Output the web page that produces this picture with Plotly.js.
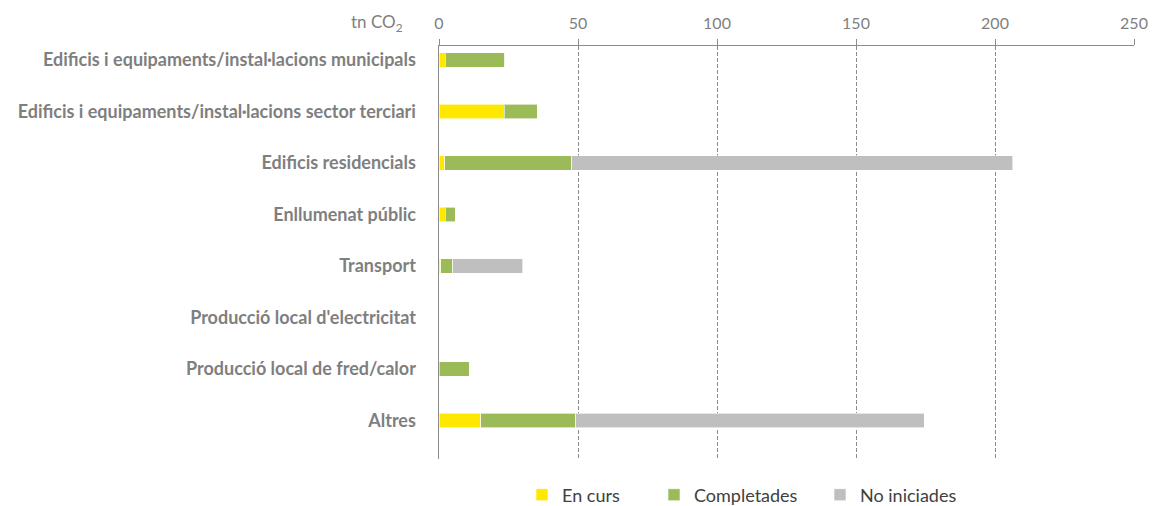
<!DOCTYPE html>
<html>
<head>
<meta charset="utf-8">
<script src="https://cdn.plot.ly/plotly-3.0.1.min.js"></script>
<style>html,body{margin:0;padding:0;background:#fff;}#chart{width:1152px;height:506px;}</style>
</head>
<body>
<div id="chart"></div>
<script>
const categories = [
  "Edificis i equipaments/instal·lacions municipals",
  "Edificis i equipaments/instal·lacions sector terciari",
  "Edificis residencials",
  "Enllumenat públic",
  "Transport",
  "Producció local d'electricitat",
  "Producció local de fred/calor",
  "Altres"
];
const enCurs      = [2.3, 23.4, 2.0, 2.3, 0.6, 0, 0, 15.0];
const completades = [21.4, 12.0, 45.8, 3.6, 4.4, 0, 10.8, 34.2];
const noIniciades = [0, 0, 158.6, 0, 25.2, 0, 0, 125.4];
const seriesNames = ["En curs", "Completades", "No iniciades"];
const seriesColors = ["#FFE800", "#9BBB59", "#BFBFBF"];
const xTicks = [0, 50, 100, 150, 200, 250];

const legendIds = ["legend", "legend2", "legend3"];
const legendLeft = [522, 654, 820];

const seriesValues = [enCurs, completades, noIniciades];
const traces = seriesValues.map((vals, i) => ({
  type: "bar",
  orientation: "h",
  name: seriesNames[i],
  y: categories,
  x: vals,
  legend: legendIds[i],
  marker: {color: seriesColors[i], line: {color: "rgba(255,255,255,0.6)", width: 1}},
  hoverinfo: "x+name"
}));

const legendBase = (left) => ({
  orientation: "h",
  xref: "container", yref: "container",
  x: left / 1152, xanchor: "left",
  y: 11 / 506, yanchor: "middle",
  font: {size: 18, color: "#404040", family: "Lato, sans-serif"},
  bgcolor: "rgba(0,0,0,0)",
  borderwidth: 0,
  itemclick: false
});

const layout = {
  width: 1152, height: 506,
  margin: {l: 439, r: 18, t: 46, b: 47, pad: 0},
  barmode: "stack",
  bargap: 0.72,
  paper_bgcolor: "#fff",
  plot_bgcolor: "#fff",
  font: {family: "Lato, 'Open Sans', sans-serif", color: "#7f7f7f"},
  xaxis: {
    side: "top",
    range: [0, 250],
    tickvals: xTicks,
    ticktext: xTicks.map(String),
    showgrid: true,
    gridcolor: "#8a8a8a",
    griddash: "4px,2px",
    gridwidth: 1,
    zeroline: false,
    showline: true,
    linecolor: "#8c8c8c",
    linewidth: 1.5,
    ticks: "outside",
    ticklen: 6,
    tickcolor: "#8c8c8c",
    tickfont: {size: 16, color: "#7f7f7f", family: "Lato, sans-serif"},
    ticklabelstandoff: 3,
    fixedrange: true
  },
  yaxis: {
    type: "category",
    range: [7.75, -0.27],
    showgrid: false,
    zeroline: false,
    showline: true,
    linecolor: "#8c8c8c",
    linewidth: 1.5,
    ticks: "",
    tickfont: {size: 18, color: "#7f7f7f", family: "Lato, sans-serif", weight: "bold"},
    ticklabelstandoff: 18,
    fixedrange: true
  },
  showlegend: true,
  legend: legendBase(legendLeft[0]),
  legend2: legendBase(legendLeft[1]),
  legend3: legendBase(legendLeft[2]),
  annotations: [{
    text: "tn CO<sub>2</sub>",
    xref: "paper", yref: "paper",
    x: -0.049, xanchor: "right",
    y: 1.056, yanchor: "middle",
    showarrow: false,
    font: {size: 17, color: "#7f7f7f", family: "Lato, sans-serif"}
  }]
};

Plotly.newPlot("chart", traces, layout, {displayModeBar: false, staticPlot: true});
</script>
</body>
</html>
